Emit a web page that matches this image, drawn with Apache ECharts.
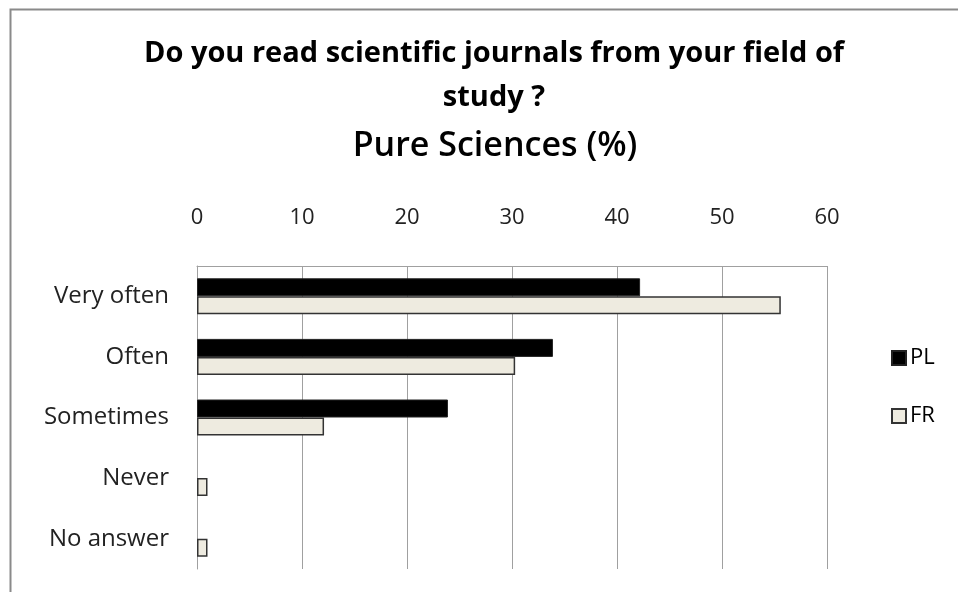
<!DOCTYPE html>
<html>
<head>
<meta charset="utf-8">
<script src="https://cdn.jsdelivr.net/npm/echarts@6/dist/echarts.min.js"></script>
<style>
html,body{margin:0;padding:0;background:#fff;}
#c{width:958px;height:592px;}
</style>
</head>
<body>
<div id="c"></div>
<script>
var categories = ['Very often', 'Often', 'Sometimes', 'Never', 'No answer'];
var plValues = [42.2, 33.9, 23.9, 0, 0];
var frValues = [55.6, 30.3, 12.1, 1.0, 1.0];
var seriesNames = ['PL', 'FR'];
var xTicks = {min: 0, max: 60, interval: 10};
var titleText = 'Do you read scientific journals from your field of\nstudy ?';
var subtitleText = 'Pure Sciences (%)';

function toData(arr) {
  return arr.map(function (v) {
    return v === 0 ? {value: v, itemStyle: {borderWidth: 0}} : v;
  });
}

var chart = echarts.init(document.getElementById('c'));
var font = '"Open Sans", Lato, sans-serif';
chart.setOption({
  animation: false,
  backgroundColor: '#fff',
  graphic: [{
    type: 'rect', left: 8, top: 7, shape: {width: 980, height: 620},
    style: {fill: 'none', stroke: '#8a8a8a', lineWidth: 2}, silent: true
  }],
  title: [{
    text: titleText,
    left: 489, top: 27, textAlign: 'center',
    textStyle: {fontFamily: font, fontSize: 29, fontWeight: 'bold', color: '#000', lineHeight: 44}
  }, {
    text: subtitleText,
    left: 490, top: 124, textAlign: 'center',
    textStyle: {fontFamily: font, fontSize: 34, fontWeight: 600, color: '#000'}
  }],
  legend: {
    orient: 'vertical', left: 886, top: 342,
    itemWidth: 14, itemHeight: 14, itemGap: 36, icon: 'rect',
    textStyle: {fontFamily: font, fontSize: 22, color: '#000', padding: [0, 0, 0, -1]},
    data: seriesNames
  },
  grid: {left: 197, right: 131, top: 266, bottom: 23, containLabel: false},
  xAxis: {
    type: 'value', position: 'top',
    min: xTicks.min, max: xTicks.max, interval: xTicks.interval,
    axisLine: {show: true, lineStyle: {color: '#a0a0a0', width: 1}},
    axisTick: {show: false},
    axisLabel: {fontFamily: font, fontSize: 22, color: '#222', margin: 37},
    splitLine: {show: true, lineStyle: {color: '#a0a0a0', width: 1}}
  },
  yAxis: {
    type: 'category', inverse: true, data: categories,
    axisLine: {show: true, lineStyle: {color: '#a0a0a0', width: 1}},
    axisTick: {show: false},
    axisLabel: {fontFamily: font, fontSize: 24, color: '#222', margin: 28}
  },
  series: [{
    name: seriesNames[0], type: 'bar', data: toData(plValues),
    barWidth: 18, barGap: '0%',
    itemStyle: {color: '#000', borderColor: '#222', borderWidth: 1}
  }, {
    name: seriesNames[1], type: 'bar', data: toData(frValues),
    barWidth: 18, barGap: '0%',
    itemStyle: {color: '#eeebe0', borderColor: '#333', borderWidth: 1.5}
  }]
});
</script>
</body>
</html>
